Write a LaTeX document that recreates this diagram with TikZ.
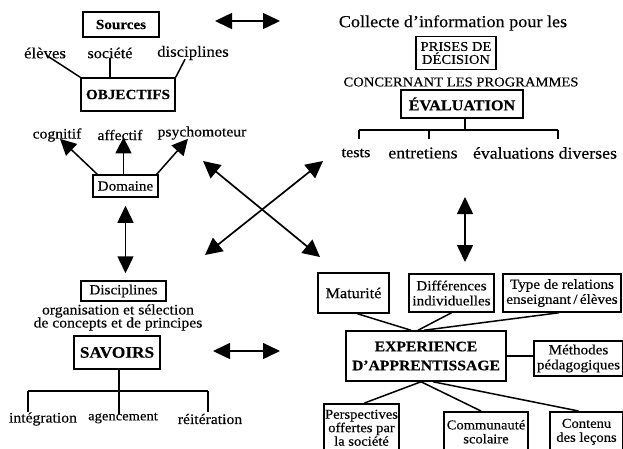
\documentclass[tikz,border=0pt]{standalone}
\usepackage{fontspec}
\setmainfont[FakeStretch=1.08,FakeBold=0.3]{Liberation Serif}
\usetikzlibrary{arrows.meta}
\tikzset{
  lbl/.style={inner sep=0pt, font=\fontsize{14.5}{16}\selectfont},
  bx/.style={draw, line width=1.5pt, inner sep=0pt, align=center, font=\fontsize{14}{15}\selectfont},
  bbx/.style={bx, font=\fontsize{14}{18}\selectfont\bfseries},
  ln/.style={line width=1.5pt},
  arr/.style={line width=1.5pt, -{Triangle[length=16pt,width=16pt]}},
  darr/.style={line width=1.5pt, {Triangle[length=17pt,width=16pt]}-{Triangle[length=17pt,width=16pt]}},
  xarr/.style={line width=1.7pt, {Triangle[length=17pt,width=17pt]}-{Triangle[length=17pt,width=17pt]}},
}
\begin{document}
\begin{tikzpicture}[x=1pt,y=-1pt]
\useasboundingbox (0,0) rectangle (623,448);
\clip (0,0) rectangle (623,448);
% ---------- top left: objectifs ----------
\node[bbx, minimum width=76pt, minimum height=25pt] (src) at (121,24.5) {Sources};
\node[lbl, font=\fontsize{15.5}{16}\selectfont] (eleves) at (45,53) {élèves};
\node[lbl, font=\fontsize{15}{16}\selectfont] (societe) at (110,53) {société};
\node[lbl, font=\fontsize{15.5}{16}\selectfont] (discs) at (193,53) {disciplines};
\node[bbx, minimum width=94pt, minimum height=33pt] (obj) at (128,94.5) {OBJECTIFS};
\draw[ln] ([xshift=2pt,yshift=3pt]eleves.south) -- (obj.north west);
\draw[ln] (societe.south) -- (societe.south |- obj.north);
\draw[ln] ([xshift=-8pt,yshift=1pt]discs.south) -- (obj.north east);
\node[lbl] (cog) at (57,135) {cognitif};
\node[lbl] (aff) at (120,135) {affectif};
\node[lbl] (psy) at (202,133) {psychomoteur};
\node[bx, minimum width=65pt, minimum height=22pt] (dom) at (125.5,186) {Domaine};
\draw[arr] ([xshift=5pt]dom.north west) -- ([xshift=3pt,yshift=3pt]cog.south);
\draw[arr] ([xshift=-2pt]dom.north) -- ([xshift=-2pt,yshift=3pt]dom.north |- aff.south);
\draw[arr] ([xshift=-2pt]dom.north east) -- ([xshift=-14pt,yshift=1pt]psy.south);
% ---------- left bottom: savoirs ----------
\node[bx, minimum width=85pt, minimum height=20pt] (dsc) at (123.5,291) {Disciplines};
\node[lbl] (org) at (118,311) {organisation et sélection};
\node[lbl] (conc) at (118,324) {de concepts et de principes};
\node[bbx, minimum width=86pt, minimum height=33pt, font=\fontsize{16}{18}\selectfont\bfseries] (sav) at (117,352.5) {SAVOIRS};
\draw[darr, shorten <=8pt, shorten >=7pt] (dom.south) -- (dom.south |- dsc.north);
\coordinate (sj) at (119,391);
\coordinate (sl) at (28,391);
\coordinate (sr) at (208,391);
\node[lbl, font=\fontsize{14.5}{15}\selectfont] (integ) at (43,419) {intégration};
\node[lbl, font=\fontsize{13.5}{15}\selectfont] (agen) at (123,418) {agencement};
\node[lbl, font=\fontsize{14.5}{15}\selectfont] (reit) at (210,419) {réitération};
\draw[ln] (sav.south -| sj) -- (sj);
\draw[ln] (sl) -- (sr);
\draw[ln] (sl) -- ++(0,21);
\draw[ln] (sr) -- ++(0,21);
\draw[ln] (sj) -- ++(0,23);
% ---------- top right: evaluation ----------
\node[lbl, font=\fontsize{16.8}{18}\selectfont] (coll) at (453,23) {Collecte d'information pour les};
\node[bx, minimum width=80pt, minimum height=33pt, font=\fontsize{13.5}{13}\selectfont] (pris) at (456,53) {PRISES DE\\DÉCISION};
\node[lbl, font=\fontsize{13.5}{15}\selectfont] (concp) at (461,82) {CONCERNANT LES PROGRAMMES};
\node[bbx, minimum width=122pt, minimum height=28pt, font=\fontsize{15}{16}\selectfont\bfseries] (eval) at (462,104) {ÉVALUATION};
\coordinate (ej) at (465,130);
\coordinate (el) at (359,130);
\coordinate (em) at (429,130);
\coordinate (er) at (558,130);
\draw[ln] (eval.south -| ej) -- (ej);
\draw[ln] (el) -- (er);
\draw[ln] (el) -- ++(0,9);
\draw[ln] (em) -- ++(0,9);
\draw[ln] (er) -- ++(0,9);
\node[lbl, font=\fontsize{15}{16}\selectfont] (tests) at (356,153) {tests};
\node[lbl, font=\fontsize{16.5}{16}\selectfont] (entr) at (423,153) {entretiens};
\node[lbl, font=\fontsize{16.5}{16}\selectfont] (evd) at (545,153) {évaluations diverses};
% ---------- links ----------
\coordinate (h1a) at (215,21);
\coordinate (h1b) at (280,21);
\draw[darr] (h1a) -- (h1b);
\coordinate (h2a) at (213,351);
\coordinate (h2b) at (280,351);
\draw[darr] (h2a) -- (h2b);
\coordinate (v2a) at (465,197);
\coordinate (v2b) at (465,262);
\draw[darr] (v2a) -- (v2b);
\coordinate (xa) at (203,161);
\coordinate (xb) at (320,257);
\coordinate (xc) at (323,161);
\coordinate (xd) at (205,255);
\draw[xarr] (xa) -- (xb);
\draw[xarr] (xc) -- (xd);
% ---------- bottom right: experience ----------
\node[bx, minimum width=71pt, minimum height=40pt, font=\fontsize{15}{15}\selectfont] (mat) at (353.5,293) {Maturité};
\node[bx, minimum width=85pt, minimum height=38pt] (diff) at (451.5,293) {Différences\\individuelles};
\node[bx, minimum width=118pt, minimum height=38pt] (type) at (562,293) {Type de relations\\enseignant\,/\,élèves};
\node[bbx, minimum width=160pt, minimum height=50pt, font=\fontsize{14.5}{19}\selectfont\bfseries] (exp) at (426,356) {EXPERIENCE\\D'APPRENTISSAGE};
\node[bx, minimum width=89pt, minimum height=35pt] (meth) at (578.5,358.5) {Méthodes\\pédagogiques};
\node[bx, minimum width=75pt, minimum height=48pt, font=\fontsize{13.5}{13.5}\selectfont, anchor=north] (persp) at (361.5,403) {Perspectives\\offertes par\\la société};
\node[bx, minimum width=84pt, minimum height=40pt, font=\fontsize{13.5}{14}\selectfont, anchor=north] (comm) at (486,411) {Communauté\\scolaire};
\node[bx, minimum width=73pt, minimum height=40pt, font=\fontsize{13.5}{14}\selectfont, anchor=north] (cont) at (586.5,411) {Contenu\\des leçons};
\draw[ln] ([xshift=4pt]mat.south) -- ([xshift=-15pt]exp.north);
\draw[ln] (diff.south) -- ([xshift=-8pt]exp.north);
\draw[ln] ([xshift=-3pt]type.south) -- ([xshift=-2pt]exp.north);
\draw[ln] (exp.east) -- (exp.east -| meth.west);
\draw[ln] ([xshift=-5pt]exp.south) -- ([xshift=3pt]persp.north);
\draw[ln] ([xshift=-5pt]exp.south) -- ([xshift=-5pt]comm.north);
\draw[ln] ([xshift=7pt]exp.south) -- ([xshift=-8pt]cont.north);
\end{tikzpicture}
\end{document}
